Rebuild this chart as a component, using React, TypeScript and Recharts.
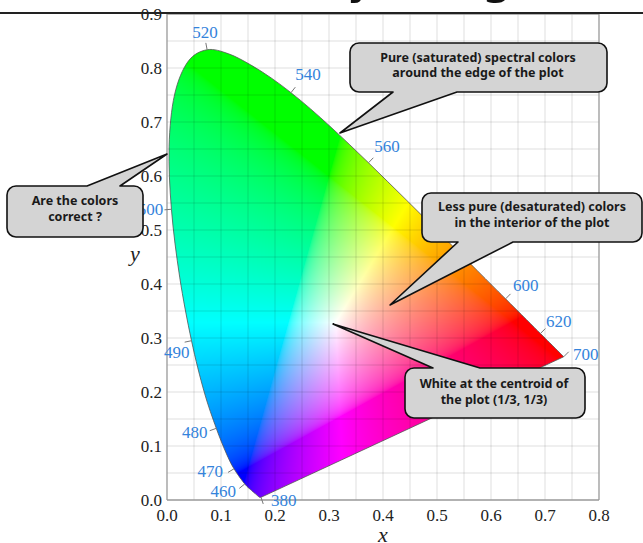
import React from 'react';
import { ComposedChart, XAxis, YAxis, Scatter, ReferenceArea, ReferenceLine } from 'recharts';

// CIE 1931 spectral locus (wavelength nm -> chromaticity x, y)
const wavelengths = [380, 390, 400, 410, 420, 430, 440, 450, 460, 470, 475, 480, 485, 490, 495, 500, 505, 510, 515, 520, 525, 530, 535, 540, 545, 550, 555, 560, 565, 570, 575, 580, 585, 590, 595, 600, 610, 620, 630, 640, 650, 660, 680, 700];
const locusX = [0.1741, 0.1738, 0.1733, 0.1726, 0.1714, 0.1689, 0.1644, 0.1566, 0.1440, 0.1241, 0.1096, 0.0913, 0.0687, 0.0454, 0.0235, 0.0082, 0.0039, 0.0139, 0.0389, 0.0743, 0.1142, 0.1547, 0.1929, 0.2296, 0.2658, 0.3016, 0.3373, 0.3731, 0.4087, 0.4441, 0.4788, 0.5125, 0.5448, 0.5752, 0.6029, 0.6270, 0.6658, 0.6915, 0.7079, 0.7190, 0.7260, 0.7300, 0.7334, 0.7347];
const locusY = [0.0050, 0.0049, 0.0048, 0.0048, 0.0051, 0.0069, 0.0109, 0.0177, 0.0297, 0.0578, 0.0868, 0.1327, 0.2007, 0.2950, 0.4127, 0.5384, 0.6548, 0.7502, 0.8120, 0.8338, 0.8262, 0.8059, 0.7816, 0.7543, 0.7243, 0.6923, 0.6589, 0.6245, 0.5896, 0.5547, 0.5202, 0.4866, 0.4544, 0.4242, 0.3965, 0.3725, 0.3340, 0.3083, 0.2920, 0.2809, 0.2740, 0.2700, 0.2666, 0.2653];
const labeledWavelengths = [380, 460, 470, 480, 490, 500, 520, 540, 560, 580, 600, 620, 700];
const whitePoint = [1 / 3, 1 / 3];

const xTicks = [0, 0.1, 0.2, 0.3, 0.4, 0.5, 0.6, 0.7, 0.8];
const yTicks = [0, 0.1, 0.2, 0.3, 0.4, 0.5, 0.6, 0.7, 0.8, 0.9];
const xGrid = [0.05, 0.1, 0.15, 0.2, 0.25, 0.3, 0.35, 0.4, 0.45, 0.5, 0.55, 0.6, 0.65, 0.7, 0.75];
const yGrid = [0.05, 0.1, 0.15, 0.2, 0.25, 0.3, 0.35, 0.4, 0.45, 0.5, 0.55, 0.6, 0.65, 0.7, 0.75, 0.8, 0.85];
const xDomain = [0, 0.8];
const yDomain = [0, 0.9];

const labelData = labeledWavelengths.map((w) => {
  const i = wavelengths.indexOf(w);
  return { x: locusX[i], y: locusY[i], wl: w };
});

// label placement style: [angle in degrees (screen), distance px]
const LABEL_OFFSET: Record<number, [number, number]> = {
  380: [7, 23], 460: [160, 23], 470: [173, 24], 480: [170, 22], 490: [141, 19], 500: [180, 21],
  520: [-97, 17], 540: [-47, 25], 560: [-42, 25], 580: [-40, 24], 600: [-33, 24], 620: [-34, 22], 700: [-5, 22],
};

const SERIF = '"Liberation Serif", "Times New Roman", serif';
const SANS = '"Noto Sans", "DejaVu Sans", sans-serif';
const LABEL_BLUE = '#3483db';

function gammaEnc(v: number) {
  return v <= 0.0031308 ? 12.92 * v : 1.055 * Math.pow(v, 1 / 2.4) - 0.055;
}

function chromaToRGB(x: number, y: number): [number, number, number] {
  const yy = Math.max(y, 0.002);
  const X = x / yy;
  const Y = 1;
  const Z = (1 - x - yy) / yy;
  let r = 3.2406 * X - 1.5372 * Y - 0.4986 * Z;
  let g = -0.9689 * X + 1.8758 * Y + 0.0415 * Z;
  let b = 0.0557 * X - 0.204 * Y + 1.057 * Z;
  r = Math.max(r, 0);
  g = Math.max(g, 0);
  b = Math.max(b, 0);
  const m = Math.max(r, g, b, 1e-9);
  return [gammaEnc(r / m), gammaEnc(g / m), gammaEnc(b / m)];
}

let fieldCache: { key: string; url: string } | null = null;
function colorFieldURL(w: number, h: number) {
  const W = Math.max(1, Math.round(w));
  const H = Math.max(1, Math.round(h));
  const key = W + 'x' + H;
  if (fieldCache && fieldCache.key === key) return fieldCache.url;
  const c = document.createElement('canvas');
  c.width = W;
  c.height = H;
  const ctx = c.getContext('2d');
  if (!ctx) return '';
  const img = ctx.createImageData(W, H);
  for (let j = 0; j < H; j++) {
    const cy = yDomain[1] - ((j + 0.5) / H) * (yDomain[1] - yDomain[0]);
    for (let i = 0; i < W; i++) {
      const cx = xDomain[0] + ((i + 0.5) / W) * (xDomain[1] - xDomain[0]);
      const [r, g, b] = chromaToRGB(cx, cy);
      const k = (j * W + i) * 4;
      img.data[k] = Math.round(r * 255);
      img.data[k + 1] = Math.round(g * 255);
      img.data[k + 2] = Math.round(b * 255);
      img.data[k + 3] = 255;
    }
  }
  ctx.putImageData(img, 0, 0);
  const url = c.toDataURL('image/png');
  fieldCache = { key, url };
  return url;
}

// smooth Catmull-Rom path through the spectral locus, closed by the straight purple line
function smoothClosedPath(pts: [number, number][]) {
  let d = `M${pts[0][0]},${pts[0][1]}`;
  for (let i = 0; i < pts.length - 1; i++) {
    const p0 = pts[Math.max(0, i - 1)];
    const p1 = pts[i];
    const p2 = pts[i + 1];
    const p3 = pts[Math.min(pts.length - 1, i + 2)];
    const c1x = p1[0] + (p2[0] - p0[0]) / 6;
    const c1y = p1[1] + (p2[1] - p0[1]) / 6;
    const c2x = p2[0] - (p3[0] - p1[0]) / 6;
    const c2y = p2[1] - (p3[1] - p1[1]) / 6;
    d += ` C${c1x},${c1y} ${c2x},${c2y} ${p2[0]},${p2[1]}`;
  }
  return d + ' Z';
}

const ColorField = (props: any) => {
  const { x, y, width, height } = props;
  const px = (v: number) => x + ((v - xDomain[0]) / (xDomain[1] - xDomain[0])) * width;
  const py = (v: number) => y + height - ((v - yDomain[0]) / (yDomain[1] - yDomain[0])) * height;
  const pts = locusX.map((lx, i) => [px(lx), py(locusY[i])] as [number, number]);
  const d = smoothClosedPath(pts);
  return (
    <g>
      <defs>
        <clipPath id="cie-locus-clip">
          <path d={d} />
        </clipPath>
      </defs>
      <image
        href={colorFieldURL(width, height)}
        x={x}
        y={y}
        width={width}
        height={height}
        preserveAspectRatio="none"
        clipPath="url(#cie-locus-clip)"
      />
      <path d={d} fill="none" stroke="#555" strokeWidth={0.8} />
    </g>
  );
};

const WavelengthLabel = (props: any) => {
  const { cx, cy, payload } = props;
  if (cx == null || cy == null || !payload) return <g />;
  const i = wavelengths.indexOf(payload.wl);
  const a = Math.max(0, i - 1);
  const b = Math.min(wavelengths.length - 1, i + 1);
  let tx = locusX[b] - locusX[a];
  let ty = -(locusY[b] - locusY[a]);
  const tl = Math.hypot(tx, ty) || 1;
  tx /= tl;
  ty /= tl;
  let nx = ty;
  let ny = -tx;
  const ox = locusX[i] - whitePoint[0];
  const oy = -(locusY[i] - whitePoint[1]);
  if (nx * ox + ny * oy < 0) {
    nx = -nx;
    ny = -ny;
  }
  const [ang, dist] = LABEL_OFFSET[payload.wl] || [0, 22];
  const rad = (ang * Math.PI) / 180;
  return (
    <g>
      <line x1={cx} y1={cy} x2={cx + nx * 7} y2={cy + ny * 7} stroke="#777" strokeWidth={1} />
      <text
        x={cx + Math.cos(rad) * dist}
        y={cy + Math.sin(rad) * dist}
        textAnchor="middle"
        dominantBaseline="central"
        fontFamily={SERIF}
        fontSize={17}
        fill={LABEL_BLUE}
      >
        {payload.wl}
      </text>
    </g>
  );
};

const XTick = (props: any) => {
  const { x, y, payload } = props;
  return (
    <text x={x} y={y + 15} textAnchor="middle" dominantBaseline="central" fontFamily={SERIF} fontSize={17} fill="#222">
      {Number(payload.value).toFixed(1)}
    </text>
  );
};

const YTick = (props: any) => {
  const { x, y, payload } = props;
  return (
    <text x={x - 5} y={y} textAnchor="end" dominantBaseline="central" fontFamily={SERIF} fontSize={17} fill="#222">
      {Number(payload.value).toFixed(1)}
    </text>
  );
};

const XLabel = (props: any) => {
  const vb = props.viewBox || {};
  return (
    <text x={vb.x + vb.width / 2} y={vb.y + 34} textAnchor="middle" dominantBaseline="central" fontFamily={SERIF} fontStyle="italic" fontSize={22} fill="#222">
      x
    </text>
  );
};

const YLabel = (props: any) => {
  const vb = props.viewBox || {};
  return (
    <text x={vb.x + 28} y={vb.y + vb.height / 2 - 4} textAnchor="middle" dominantBaseline="central" fontFamily={SERIF} fontStyle="italic" fontSize={22} fill="#222">
      y
    </text>
  );
};

type Callout = {
  box: [number, number, number, number];
  side: 'top' | 'bottom';
  base: [number, number];
  tip: [number, number];
  lines: string[];
  baselines: number[];
  cx: number;
};

const callouts: Callout[] = [
  { box: [350, 43, 607, 92], side: 'bottom', base: [393, 457], tip: [340, 133], lines: ['Pure (saturated) spectral colors', 'around the edge of the plot'], baselines: [61.5, 77], cx: 478 },
  { box: [7, 186, 143, 237], side: 'top', base: [87, 120], tip: [167, 154], lines: ['Are the colors', 'correct ?'], baselines: [205, 221], cx: 75 },
  { box: [422, 193, 642, 242], side: 'bottom', base: [458, 513], tip: [390, 305], lines: ['Less pure (desaturated) colors', 'in the interior of the plot'], baselines: [211, 227], cx: 532 },
  { box: [405, 368, 585, 418], side: 'top', base: [433, 480], tip: [333, 324], lines: ['White at the centroid of', 'the plot (1/3, 1/3)'], baselines: [387.5, 404], cx: 494 },
];

function calloutPath(c: Callout) {
  const [x0, y0, x1, y1] = c.box;
  const r = 9;
  const [bA, bB] = c.base;
  const [tx, ty] = c.tip;
  if (c.side === 'top') {
    return `M${x0 + r},${y0} L${bA},${y0} L${tx},${ty} L${bB},${y0} L${x1 - r},${y0} A${r},${r} 0 0 1 ${x1},${y0 + r} L${x1},${y1 - r} A${r},${r} 0 0 1 ${x1 - r},${y1} L${x0 + r},${y1} A${r},${r} 0 0 1 ${x0},${y1 - r} L${x0},${y0 + r} A${r},${r} 0 0 1 ${x0 + r},${y0} Z`;
  }
  return `M${x0 + r},${y0} L${x1 - r},${y0} A${r},${r} 0 0 1 ${x1},${y0 + r} L${x1},${y1 - r} A${r},${r} 0 0 1 ${x1 - r},${y1} L${bB},${y1} L${tx},${ty} L${bA},${y1} L${x0 + r},${y1} A${r},${r} 0 0 1 ${x0},${y1 - r} L${x0},${y0 + r} A${r},${r} 0 0 1 ${x0 + r},${y0} Z`;
}

export default function App() {
  return (
    <div style={{ position: 'absolute', left: 0, top: 0, width: 643, height: 543, background: '#fff' }}>
      <ComposedChart width={643} height={543} margin={{ top: 14, right: 44, bottom: 13, left: 107 }}>
        <XAxis
          type="number"
          dataKey="x"
          domain={xDomain}
          ticks={xTicks}
          height={30}
          tick={XTick}
          tickLine={false}
          axisLine={false}
          tickSize={0}
          tickMargin={0}
          interval={0}
          label={XLabel}
        />
        <YAxis
          type="number"
          dataKey="y"
          domain={yDomain}
          ticks={yTicks}
          width={60}
          tick={YTick}
          tickLine={false}
          axisLine={false}
          tickSize={0}
          tickMargin={0}
          interval={0}
          label={YLabel}
        />
        <ReferenceArea x1={xDomain[0]} x2={xDomain[1]} y1={yDomain[0]} y2={yDomain[1]} shape={ColorField} ifOverflow="visible" />
        {xGrid.map((v) => (
          <ReferenceLine key={'gx' + v} x={v} stroke="rgba(0,0,0,0.13)" strokeWidth={1} />
        ))}
        {yGrid.map((v) => (
          <ReferenceLine key={'gy' + v} y={v} stroke="rgba(0,0,0,0.13)" strokeWidth={1} />
        ))}
        <ReferenceLine x={xDomain[0]} stroke="#999" strokeWidth={1.3} />
        <ReferenceLine x={xDomain[1]} stroke="#999" strokeWidth={1.3} />
        <ReferenceLine y={yDomain[0]} stroke="#999" strokeWidth={1.3} />
        <ReferenceLine y={yDomain[1]} stroke="#999" strokeWidth={1.3} />
        <Scatter data={labelData} shape={WavelengthLabel} isAnimationActive={false} />
      </ComposedChart>
      <svg width={643} height={543} style={{ position: 'absolute', left: 0, top: 0, pointerEvents: 'none' }}>
        <text x={331} y={-8} textAnchor="middle" fontFamily='"DejaVu Sans", sans-serif' fontSize={52} fill="#111">
          Chromaticity Diagram
        </text>
        <line x1={0} x2={643} y1={13} y2={13} stroke="#222" strokeWidth={2} />
        {callouts.map((c, k) => (
          <g key={k}>
            <path d={calloutPath(c)} fill="#d4d4d4" stroke="#111" strokeWidth={1.6} strokeLinejoin="round" />
            {c.lines.map((t, li) => (
              <text key={li} x={c.cx} y={c.baselines[li]} textAnchor="middle" fontFamily={SANS} fontWeight="bold" fontSize={12.5} fill="#1a1a1a">
                {t}
              </text>
            ))}
          </g>
        ))}
      </svg>
    </div>
  );
}
